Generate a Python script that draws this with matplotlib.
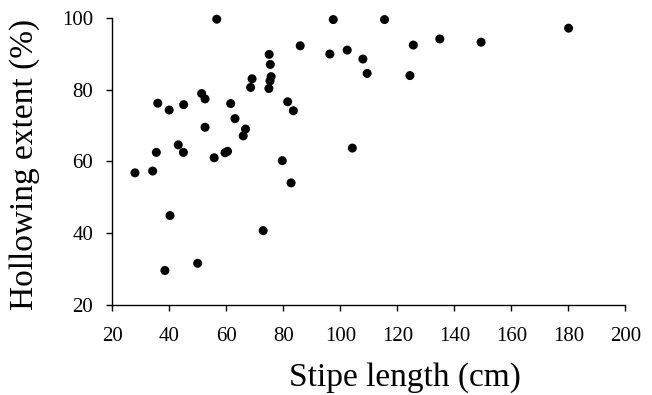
import numpy as np
import matplotlib.pyplot as plt

# stipe length (cm) and hollowing extent (%)
stipe_length = [27.9, 34.1, 35.4, 35.9, 38.4, 39.9, 40.2, 43.1, 44.9, 45.0,
                49.9, 51.3, 52.5, 52.5, 55.7, 56.6, 59.5, 60.4, 61.5, 63.0,
                65.9, 66.7, 68.5, 69.0, 72.9, 74.9, 75.0, 75.3, 75.4, 75.7,
                79.6, 81.5, 82.7, 83.5, 85.9, 96.3, 97.5, 102.4, 104.2, 107.9,
                109.4, 115.5, 124.4, 125.6, 134.9, 149.4, 180.1]
hollowing = [56.8, 57.3, 62.5, 76.2, 29.6, 74.3, 44.9, 64.6, 62.5, 75.8,
             31.6, 78.9, 77.4, 69.5, 61.0, 99.6, 62.4, 62.8, 76.1, 71.9,
             67.1, 69.0, 80.6, 83.0, 40.7, 80.3, 89.8, 82.4, 87.0, 83.6,
             60.2, 76.6, 54.0, 74.1, 92.2, 89.9, 99.5, 91.0, 63.7, 88.5,
             84.5, 99.5, 83.9, 92.4, 94.1, 93.2, 97.1]

xticks = [20, 40, 60, 80, 100, 120, 140, 160, 180, 200]
yticks = [20, 40, 60, 80, 100]

plt.rcParams['font.family'] = ['Liberation Serif', 'DejaVu Serif']

fig = plt.figure(figsize=(6.52, 3.95), dpi=100)
ax = fig.add_axes([0.1725, 0.228, 0.7865, 0.727])

ax.scatter(stipe_length, hollowing, s=42, color='black', edgecolors='none',
           clip_on=False, zorder=3)

ax.set_xlim(20, 200)
ax.set_ylim(20, 100)
ax.set_xticks(xticks)
ax.set_yticks(yticks)

for s in ['top', 'right']:
    ax.spines[s].set_visible(False)
for s in ['left', 'bottom']:
    ax.spines[s].set_linewidth(1.0)
    ax.spines[s].set_color('black')

ax.tick_params(direction='out', length=4, width=1, labelsize=15)
ax.tick_params(axis='x', pad=12)
ax.tick_params(axis='y', pad=10)

ax.set_xlabel('Stipe length (cm)', fontsize=24)
ax.set_ylabel('Hollowing extent (%)', fontsize=24)
ax.xaxis.set_label_coords(0.57, -0.2)
ax.yaxis.set_label_coords(-0.141, 0.49)

plt.savefig('out.png', dpi=100)
